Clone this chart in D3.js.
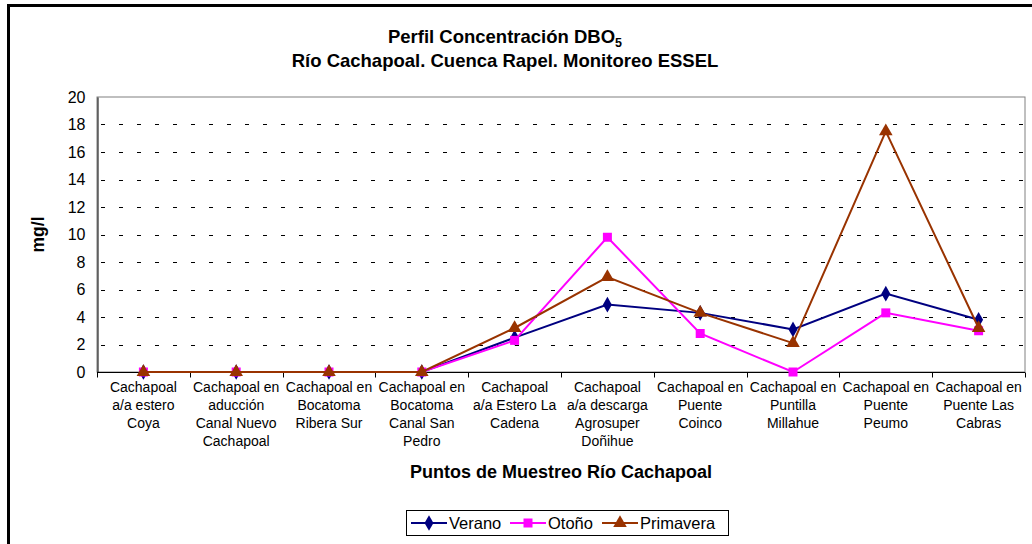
<!DOCTYPE html>
<html>
<head>
<meta charset="utf-8">
<script src="https://cdn.jsdelivr.net/npm/d3@7"></script>
<style>
  html, body { margin: 0; padding: 0; background: #fff; }
  svg { display: block; font-family: "Liberation Sans", Arial, sans-serif; }
</style>
</head>
<body>
<svg id="chart" width="1032" height="544"></svg>
<script>
// Sampling points along the Cachapoal river (multi-line labels)
const categories = [
  ["Cachapoal", "a/a estero", "Coya"],
  ["Cachapoal en", "aducción", "Canal Nuevo", "Cachapoal"],
  ["Cachapoal en", "Bocatoma", "Ribera Sur"],
  ["Cachapoal en", "Bocatoma", "Canal San", "Pedro"],
  ["Cachapoal", "a/a Estero La", "Cadena"],
  ["Cachapoal", "a/a descarga", "Agrosuper", "Doñihue"],
  ["Cachapoal en", "Puente", "Coinco"],
  ["Cachapoal en", "Puntilla", "Millahue"],
  ["Cachapoal en", "Puente", "Peumo"],
  ["Cachapoal en", "Puente Las", "Cabras"]
];

// DBO5 concentration (mg/l) per season
const verano    = [0, 0, 0, 0, 2.5, 4.9, 4.3, 3.1, 5.7, 3.8];
const otono     = [0, 0, 0, 0, 2.3, 9.8, 2.8, 0.0, 4.3, 3.0];
const primavera = [0, 0, 0, 0, 3.2, 6.9, 4.3, 2.1, 17.5, 3.2];

const yTicks = [0, 2, 4, 6, 8, 10, 12, 14, 16, 18, 20];

const seriesNames = ["Verano", "Otoño", "Primavera"];

const series = [
  { name: seriesNames[0], values: verano,    color: "#000080", symbol: d3.symbolDiamond },
  { name: seriesNames[1], values: otono,     color: "#FF00FF", symbol: d3.symbolSquare },
  { name: seriesNames[2], values: primavera, color: "#993300", symbol: d3.symbolTriangle }
];

const svg = d3.select("#chart");
const W = 1032, H = 544;

// Outer chart frame
svg.append("rect")
  .attr("x", 8.5).attr("y", 5.5)
  .attr("width", W + 10).attr("height", H + 10)
  .attr("fill", "#fff").attr("stroke", "#000").attr("stroke-width", 3);

const plot = { left: 97, top: 97, right: 1025, bottom: 372 };

const x = d3.scaleBand()
  .domain(d3.range(categories.length))
  .range([plot.left, plot.right])
  .paddingInner(0).paddingOuter(0);

const y = d3.scaleLinear().domain([0, 20]).range([plot.bottom, plot.top]);

// Titles
const title = svg.append("text")
  .attr("x", 505).attr("y", 43)
  .attr("text-anchor", "middle")
  .attr("font-weight", "bold").attr("font-size", 18.5);
title.append("tspan").text("Perfil Concentración DBO");
title.append("tspan").attr("font-size", 12.5).attr("dy", 4).text("5");

svg.append("text")
  .attr("x", 505).attr("y", 67)
  .attr("text-anchor", "middle")
  .attr("font-weight", "bold").attr("font-size", 18.5)
  .text("Río Cachapoal. Cuenca Rapel. Monitoreo ESSEL");

// Plot area border
svg.append("rect")
  .attr("x", plot.left).attr("y", plot.top)
  .attr("width", plot.right - plot.left).attr("height", plot.bottom - plot.top)
  .attr("fill", "none").attr("stroke", "#808080").attr("stroke-width", 1);

// Dashed horizontal gridlines
svg.append("g")
  .selectAll("line")
  .data(yTicks.filter(t => t > 0 && t < 20))
  .join("line")
  .attr("x1", plot.left + 4).attr("x2", plot.right)
  .attr("y1", d => Math.round(y(d)) + 0.5).attr("y2", d => Math.round(y(d)) + 0.5)
  .attr("stroke", "#000").attr("stroke-width", 1)
  .attr("stroke-dasharray", "4,14");

// Y axis
const yAxis = svg.append("g")
  .attr("transform", `translate(${plot.left + 0.5},0)`)
  .call(d3.axisLeft(y).tickValues(yTicks).tickSize(0).tickPadding(12).tickFormat(d3.format("d")));
yAxis.select(".domain").attr("stroke", "#000");
yAxis.selectAll("text").attr("font-size", 16).attr("fill", "#000")
  .attr("font-family", "Liberation Sans, Arial, sans-serif");

// X axis with ticks on category boundaries
const xAxisG = svg.append("g").attr("transform", `translate(0,${plot.bottom + 0.5})`);
xAxisG.append("line")
  .attr("x1", plot.left).attr("x2", plot.right)
  .attr("stroke", "#000");
xAxisG.selectAll("line.tick")
  .data(d3.range(categories.length + 1))
  .join("line").attr("class", "tick")
  .attr("x1", i => Math.round(plot.left + i * x.bandwidth()) + 0.5)
  .attr("x2", i => Math.round(plot.left + i * x.bandwidth()) + 0.5)
  .attr("y1", 0).attr("y2", 5)
  .attr("stroke", "#000");

const labels = svg.append("g");
categories.forEach((lines, i) => {
  const t = labels.append("text")
    .attr("x", x(i) + x.bandwidth() / 2)
    .attr("y", 392)
    .attr("text-anchor", "middle")
    .attr("font-size", 14);
  lines.forEach((ln, j) => {
    t.append("tspan")
      .attr("x", x(i) + x.bandwidth() / 2)
      .attr("dy", j === 0 ? 0 : 18)
      .text(ln);
  });
});

// Axis titles
svg.append("text")
  .attr("transform", `translate(44,${(plot.top + plot.bottom) / 2}) rotate(-90)`)
  .attr("text-anchor", "middle")
  .attr("font-weight", "bold").attr("font-size", 17.5)
  .text("mg/l");

svg.append("text")
  .attr("x", (plot.left + plot.right) / 2).attr("y", 478)
  .attr("text-anchor", "middle")
  .attr("font-weight", "bold").attr("font-size", 18)
  .text("Puntos de Muestreo Río Cachapoal");

// Series lines and markers
const line = d3.line()
  .x((d, i) => x(i) + x.bandwidth() / 2)
  .y(d => y(d));

const markerSize = s => s === d3.symbolTriangle ? 80 : (s === d3.symbolSquare ? 81 : 70);

series.forEach(s => {
  const g = svg.append("g");
  g.append("path")
    .datum(s.values)
    .attr("d", line)
    .attr("fill", "none")
    .attr("stroke", s.color)
    .attr("stroke-width", 2);
  g.selectAll("path.pt")
    .data(s.values)
    .join("path").attr("class", "pt")
    .attr("transform", (d, i) => `translate(${x(i) + x.bandwidth() / 2},${y(d)})`)
    .attr("d", d3.symbol().type(s.symbol).size(markerSize(s.symbol)))
    .attr("fill", s.color);
});

// Legend
const leg = svg.append("g");
leg.append("rect")
  .attr("x", 406.5).attr("y", 510.5)
  .attr("width", 322).attr("height", 25)
  .attr("fill", "#fff").attr("stroke", "#000").attr("stroke-width", 1);

const legX = [411, 510, 602];
series.forEach((s, k) => {
  const gx = legX[k], gy = 523;
  leg.append("line")
    .attr("x1", gx).attr("x2", gx + 36)
    .attr("y1", gy).attr("y2", gy)
    .attr("stroke", s.color).attr("stroke-width", 2);
  leg.append("path")
    .attr("transform", `translate(${gx + 18},${gy})`)
    .attr("d", d3.symbol().type(s.symbol).size(markerSize(s.symbol)))
    .attr("fill", s.color);
  leg.append("text")
    .attr("x", gx + 38).attr("y", gy + 6)
    .attr("font-size", 16.5)
    .text(s.name);
});
</script>
</body>
</html>
